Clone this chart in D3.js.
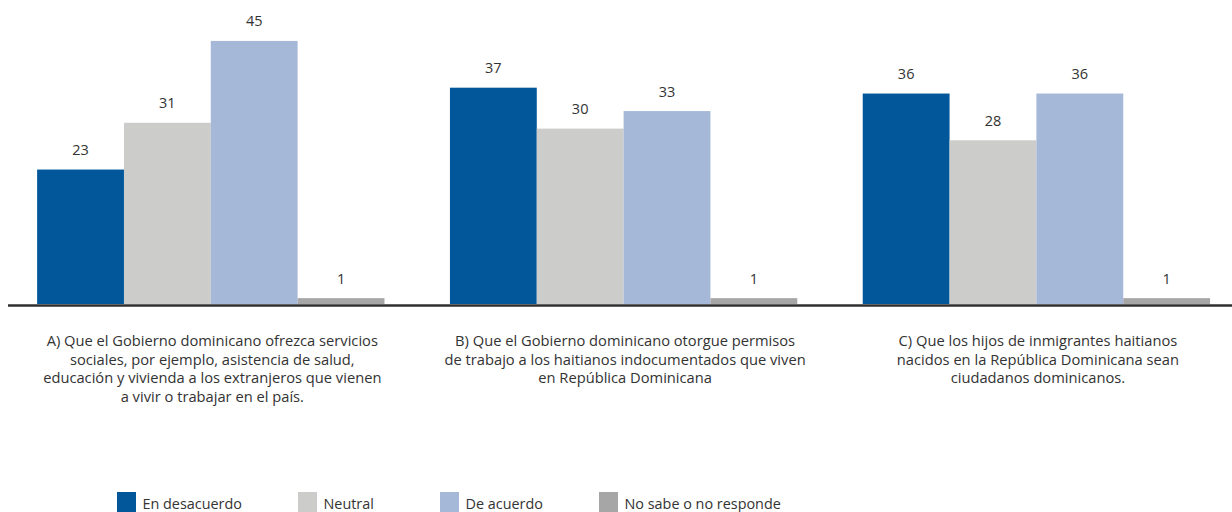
<!DOCTYPE html>
<html>
<head>
<meta charset="utf-8">
<script src="https://cdn.jsdelivr.net/npm/d3@7/dist/d3.min.js"></script>
<style>
  html, body { margin: 0; padding: 0; background: #ffffff; }
  svg { display: block; }
  text { font-family: "Open Sans", "Noto Sans", sans-serif; fill: #333333; }
</style>
</head>
<body>
<svg id="chart" width="1232" height="512"></svg>
<script>
// Survey statements (groups) and response categories (series)
const groups = ["A", "B", "C"];
const series = ["En desacuerdo", "Neutral", "De acuerdo", "No sabe o no responde"];

// Percentages per statement, in series order
const valuesA = [23, 31, 45, 1];
const valuesB = [37, 30, 33, 1];
const valuesC = [36, 28, 36, 1];

// Caption lines under each group
const captionA = [
  "A) Que el Gobierno dominicano ofrezca servicios",
  "sociales, por ejemplo, asistencia de salud,",
  "educación y vivienda a los extranjeros que vienen",
  "a vivir o trabajar en el país."
];
const captionB = [
  "B) Que el Gobierno dominicano otorgue permisos",
  "de trabajo a los haitianos indocumentados que viven",
  "en República Dominicana"
];
const captionC = [
  "C) Que los hijos de inmigrantes haitianos",
  "nacidos en la República Dominicana sean",
  "ciudadanos dominicanos."
];

const colors = ["#02579a", "#cccccb", "#a5b8d8", "#a6a6a6"];

const data = groups.map((g, i) => ({
  group: g,
  values: [valuesA, valuesB, valuesC][i],
  caption: [captionA, captionB, captionC][i]
}));

const svg = d3.select("#chart");
const baseY = 304;

const x0 = d3.scaleBand()
  .domain(groups)
  .range([4.4, 1242.8])
  .paddingInner(0.1586)
  .paddingOuter(0.0793);

const x1 = d3.scaleBand()
  .domain(series)
  .range([0, x0.bandwidth()])
  .padding(0);

const y = d3.scaleLinear().domain([0, 52]).range([baseY, 0]);

const color = d3.scaleOrdinal().domain(series).range(colors);

const g = svg.selectAll("g.group")
  .data(data)
  .join("g")
  .attr("class", "group")
  .attr("transform", d => `translate(${x0(d.group)},0)`);

const cells = d => d.values.map((v, k) => ({ key: series[k], value: v }));

g.selectAll("rect")
  .data(cells)
  .join("rect")
  .attr("x", d => x1(d.key))
  .attr("y", d => y(d.value))
  .attr("width", x1.bandwidth())
  .attr("height", d => baseY - y(d.value))
  .attr("fill", d => color(d.key));

g.selectAll("text.val")
  .data(cells)
  .join("text")
  .attr("class", "val")
  .attr("x", d => x1(d.key) + x1.bandwidth() / 2)
  .attr("y", d => y(d.value) - 14.5)
  .attr("text-anchor", "middle")
  .style("font-size", "14.5px")
  .text(d => d.value);

// Baseline
svg.append("line")
  .attr("x1", 8).attr("x2", 1232)
  .attr("y1", baseY + 1.5).attr("y2", baseY + 1.5)
  .attr("stroke", "#2f2f2f")
  .attr("stroke-width", 2.5);

// Captions
g.append("text")
  .attr("class", "caption")
  .attr("text-anchor", "middle")
  .style("font-size", "14.7px")
  .selectAll("tspan")
  .data(d => d.caption)
  .join("tspan")
  .attr("x", x0.bandwidth() / 2 + 1.5)
  .attr("y", (d, i) => 346 + i * 18.7)
  .text(d => d);

// Legend
const legendX = [117, 298, 440, 599];
const legend = svg.append("g").attr("class", "legend");
const items = legend.selectAll("g")
  .data(series)
  .join("g")
  .attr("transform", (d, i) => `translate(${legendX[i]},492)`);
items.append("rect")
  .attr("width", 19).attr("height", 20)
  .attr("fill", d => color(d));
items.append("text")
  .attr("x", 25.5).attr("y", 17)
  .style("font-size", "14.4px")
  .text(d => d);
</script>
</body>
</html>
